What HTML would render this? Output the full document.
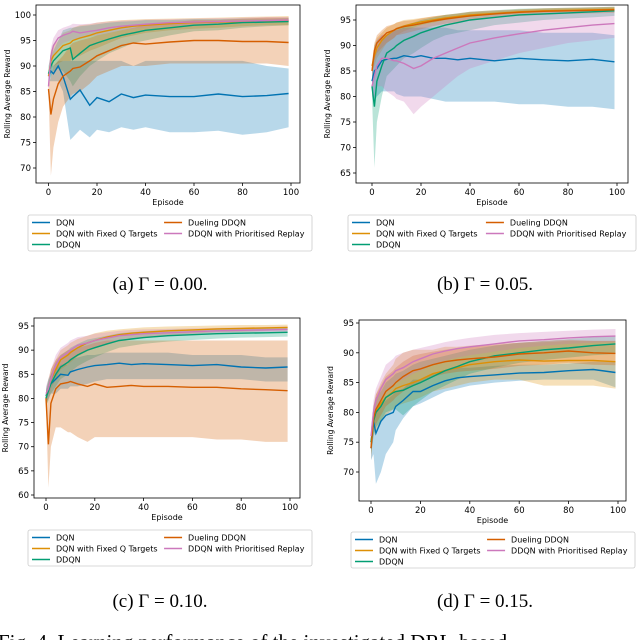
<!DOCTYPE html>
<html><head><meta charset="utf-8"><style>
body{margin:0;background:#fff;}
svg{display:block;font-family:"DejaVu Sans","Liberation Sans",sans-serif;}
</style></head><body>
<svg id="fig" width="640" height="640" viewBox="0 0 640 640" xmlns="http://www.w3.org/2000/svg"></svg>
<script>
const episodes=[0,1,2,4,6,9,10,13,17,20,25,30,35,40,50,60,70,80,90,99];
const seriesNames=["DQN","DQN with Fixed Q Targets","DDQN","Dueling DDQN","DDQN with Prioritised Replay"];
const xTicks=[0,20,40,60,80,100];
// panel a
const aYTicks=[70,75,80,85,90,95,100];
const aDQN=[88,89,88.5,90,88,83.5,84,85.3,82.3,83.8,83,84.5,83.8,84.3,84,84,84.5,84,84.2,84.6];
const aDQNLo=[87,87,87,87,85,75.5,76,77.5,76,77.5,77,78,77.5,78,77,77,77.3,76.5,77,78];
const aDQNHi=[89,91,90,91,91,91,91,91,91,91,91,91,90,91,91,91,91,91,90,89.5];
const aFQ=[88,91,92,93,94,94.5,95,95.5,96,96.5,97,97.5,97.8,98,98.3,98.5,98.6,98.7,98.8,98.9];
const aFQLo=[87,89,90,90.5,91,91,91.5,92,93,93.5,94.5,95.5,96,96.5,97,97.3,97.5,97.8,98,98];
const aFQHi=[89,93,94,95,96.5,97,97.5,98,98.2,98.5,98.8,99,99.1,99.2,99.3,99.4,99.5,99.6,99.7,99.8];
const aDD=[88.5,90,91,92,93,93.5,91.3,92.5,94,94.5,95.3,96,96.5,97,97.5,98,98.2,98.5,98.6,98.7];
const aDDLo=[87,88,89,89.5,89,87,86,88,90,91,92.5,93.5,94.5,95,96,96.8,97,97.5,97.8,98];
const aDDHi=[90,92,93,95,97,97.5,97.5,97.8,98,98.2,98.5,98.7,98.8,99,99,99.2,99.2,99.3,99.3,99.4];
const aDu=[85.5,80.5,83.5,86.5,88,89,89.5,89.8,91,92,93,94,94.5,94.3,94.7,95,95,94.8,94.8,94.6];
const aDuLo=[85,68.5,74,79,82,84,84.5,85,86.5,88,89,90,90,90,90.5,90.5,90.5,90.5,90.5,90];
const aDuHi=[86,88,90,91,92,94,94.5,95,95.5,96,96.5,97,97.5,98,98.5,99,99,99.3,99.5,99.5];
const aPR=[86,92,94,95.5,96,96.5,96.8,96.5,96.8,97,97.5,97.8,98,98.2,98.5,98.6,98.7,98.8,98.9,99];
const aPRLo=[85,90,92,93.5,94.5,95,95.3,95.3,95.8,96,96.5,97,97.3,97.5,97.8,98,98.2,98.4,98.5,98.6];
const aPRHi=[87,93.5,95.5,97,97.5,98,98.3,98.2,98.3,98.5,98.7,98.9,99,99.1,99.2,99.3,99.4,99.5,99.6,99.6];
// panel b
const bYTicks=[65,70,75,80,85,90,95];
const bDQN=[83,85,85.5,87,87.3,87.5,87.5,88,87.7,88,87.5,87.5,87.2,87.5,87,87.5,87.2,87,87.3,86.8];
const bDQNLo=[81,79,80,81,81,81,80.5,80,80,80,79.5,79,79,79,79,78.5,78.5,78,78,77.5];
const bDQNHi=[85,90,91,92,92,93,93,93.5,93.5,93.5,93.5,93.5,93,93,93,93,92.5,92.5,92.5,92];
const bFQ=[86,88,89.5,91,92,93,93.3,93.8,94.3,94.6,95,95.4,95.7,96,96.3,96.6,96.8,96.9,97,97.1];
const bFQLo=[85,86,87.5,89,90.5,91.5,92,92.8,93.5,94,94.5,95,95.3,95.6,96,96.3,96.5,96.6,96.7,96.8];
const bFQHi=[87,90,91.5,92.5,93.5,94.2,94.5,95,95.2,95.4,95.7,96,96.2,96.5,96.7,97,97.2,97.3,97.4,97.5];
const bDD=[82,78,83,86,88.5,89.5,90,91,91.8,92.5,93.3,94,94.5,95,95.5,96,96.2,96.4,96.6,96.8];
const bDDLo=[80,66,75,80,84,85.5,86,87.5,88.5,89.5,91,92,92.5,93,94,94.5,95,95.3,95.5,95.8];
const bDDHi=[84,88,89,91,92,93,93.5,94,94.5,95,95.5,96,96.3,96.6,96.9,97.2,97.3,97.4,97.5,97.6];
const bDu=[85,89,90.5,91.5,92.5,93,93.3,93.7,94,94.3,94.8,95.2,95.5,95.8,96.2,96.5,96.7,96.8,96.9,97];
const bDuLo=[83.5,87,88.5,89.5,90.5,91.5,92,92.3,92.8,93.2,93.8,94.3,94.6,95,95.5,95.8,96,96.2,96.3,96.4];
const bDuHi=[86.5,90.5,92,93,93.8,94.2,94.5,94.8,95,95.3,95.7,96,96.3,96.6,96.9,97.1,97.3,97.4,97.5,97.6];
const bPR=[82,84,86,87.5,87.5,87,87,86.5,85.5,86,87.5,88.5,89.5,90.5,91.5,92.3,93,93.5,94,94.3];
const bPRLo=[80,80,82,82,81,80,79.5,79,76.5,78,80,82,84,85.5,87,88.5,89.5,90.5,91,91.5];
const bPRHi=[84,88,91,92,92.5,93,93,93.3,93.5,94,94.5,95,95.3,95.5,96,96.3,96.5,96.8,97,97.2];
// panel c
const cYTicks=[60,65,70,75,80,85,90,95];
const cDQN=[80.5,82,83,84,85,84.8,85.5,86,86.5,86.8,87,87.3,87,87.2,87,86.8,87,86.5,86.3,86.5];
const cDQNLo=[79,80,81,81,82,82,82.5,82.5,83,83.5,84,84,84,84,84,84,84,84,83.5,83.5];
const cDQNHi=[82,84,85,86,87,87,88,88.5,89,89,89.5,89.5,89.5,89.5,89.5,89,89,89,88.5,88.5];
const cFQ=[80,82,84,86,88,89,89.5,90.5,91.5,92,92.7,93.2,93.5,93.7,94,94.2,94.4,94.5,94.6,94.7];
const cFQLo=[78.5,80,82,84,86,87,87.5,88.7,89.8,90.5,91.4,92,92.4,92.7,93.1,93.4,93.7,93.8,94,94.1];
const cFQHi=[81.5,84,86,88,90,91,91.5,92.3,93,93.5,94,94.3,94.5,94.7,94.9,95,95.1,95.2,95.2,95.3];
const cDD=[80,81.5,83,85,86.5,87.5,88,89,90,90.5,91.3,92,92.3,92.6,93,93.2,93.4,93.5,93.6,93.7];
const cDDLo=[78.5,79.5,81,82.5,84,85,85.5,86.7,87.8,88.5,89.6,90.5,90.9,91.3,91.8,92.1,92.4,92.6,92.7,92.8];
const cDDHi=[81.5,83.5,85,87.5,89,90,90.5,91.3,92.2,92.5,93,93.5,93.7,93.9,94.2,94.3,94.4,94.4,94.5,94.6];
const cDu=[80,70.5,79,82,83,83.3,83.5,83,82.5,83,82.3,82.5,82.7,82.5,82.5,82.3,82.3,82,81.8,81.6];
const cDuLo=[79,61.5,70,74,74,73,73,72,71,72,72,72,72,72,72,72,71.5,71.5,71,71];
const cDuHi=[82,80,86,88,89,90,90,90.5,91,91.5,92,92,92,92,92,92,92,92,92,92];
const cPR=[81,82,84,87,88.5,89.5,90,91,91.5,92,92.5,93,93.2,93.4,93.6,93.8,94,94.1,94.2,94.3];
const cPRLo=[79.5,80,82,85,86.5,87.5,88,89.3,90,90.6,91.3,91.9,92.2,92.5,92.8,93.1,93.3,93.5,93.6,93.7];
const cPRHi=[82.5,84,86,89,90.5,91.5,92,92.7,93,93.4,93.7,94,94.2,94.3,94.4,94.5,94.6,94.7,94.8,94.9];
// panel d
const dYTicks=[70,75,80,85,90,95];
const dDQN=[74,78.5,76.5,78.5,79.5,80,81,82,83.5,83.5,84.5,85.3,85.8,86,86.3,86.6,86.7,87,87.2,86.7];
const dDQNLo=[72,73,68,70,73,75,77,79,81,81.5,82.5,83.5,84,84.5,85,85.3,85.5,85.5,85.5,84.2];
const dDQNHi=[76,80,80,81,82,83,83.5,84,85.5,85.5,86.5,87,87.5,87.5,87.8,88,88,88.2,88.5,88.5];
const dFQ=[75,78.5,80,81.5,82.5,83.5,84,84.5,85,85.5,86.5,87,87.5,88,88.5,88.8,88.6,88.7,88.7,88.5];
const dFQLo=[73,76,77,78.5,79.5,80.5,81,81.5,82,82.5,83.5,84,84.5,85,85.5,85.5,84.5,84.5,84.5,84];
const dFQHi=[77,81,83,85,86.5,88,89,90,90.5,90.5,90.5,91,91,91.2,91.5,91.7,91.8,92,92,92];
const dDD=[75,78.5,80,81,82.5,83.3,83.5,83.7,84.5,85,86,87,87.7,88.5,89.5,90,90.5,90.8,91.2,91.5];
const dDDLo=[73,76,77.5,78.5,80,80.5,80.5,79.5,81,82,83.5,84.5,85.5,86.5,87.5,88.3,88.8,89.2,89.6,89.8];
const dDDHi=[77,81,82.5,83.5,85,86,86.5,87,88,88.5,89,89.5,90,90.5,91.2,91.7,92,92.3,92.6,92.9];
const dDu=[74,79,80.5,82,83.5,84.5,85,86,87,87.3,88,88.5,88.8,89,89.3,89.8,90,90.3,90,89.9];
const dDuLo=[72,77,78,79.5,81,82,82.5,83.5,84.5,85,86,86.5,86.8,87,87.3,87.8,88,88.3,88,87.9];
const dDuHi=[76,81,83,84.5,86,87,87.5,88.5,89.5,89.8,90.2,90.5,90.8,91,91.3,91.7,92,92.2,92,92];
const dPR=[76,80,82,84,85.5,86.5,87,87.5,88.5,89,89.8,90.3,90.7,91,91.5,92,92.2,92.5,92.7,92.8];
const dPRLo=[74.5,78.5,80,82,83.5,84.5,85,85.5,86.5,87,88,88.7,89.2,89.6,90.2,90.8,91.2,91.5,91.7,91.8];
const dPRHi=[77.5,82,84,86,88,89,89.5,90,90.5,90.8,91.3,91.8,92.2,92.5,93,93.3,93.5,93.7,93.9,94];

const colors=["#0173b2","#de8f05","#029e73","#d55e00","#cc78bc"];
const NS="http://www.w3.org/2000/svg";
const svg=document.getElementById('fig');
function mk(tag,attrs,parent){const e=document.createElementNS(NS,tag);for(const k in attrs)e.setAttribute(k,attrs[k]);(parent||svg).appendChild(e);return e;}

const panels=[
 {id:"a",fx0:36,fx1:300,fy0:5,fy1:183,x0:48.5,x100:291,yv1:100,yp1:15,yv2:70,yp2:168,yt:aYTicks,
  s:[[aDQN,aDQNLo,aDQNHi],[aFQ,aFQLo,aFQHi],[aDD,aDDLo,aDDHi],[aDu,aDuLo,aDuHi],[aPR,aPRLo,aPRHi]],
  lx:28,lw:284,ly:215,cap:"(a) Γ = 0.00.",cx:160,cy:290},
 {id:"b",fx0:356,fx1:628,fy0:5,fy1:183,x0:372,x100:617,yv1:95,yp1:20,yv2:65,yp2:173,yt:bYTicks,
  s:[[bDQN,bDQNLo,bDQNHi],[bFQ,bFQLo,bFQHi],[bDD,bDDLo,bDDHi],[bDu,bDuLo,bDuHi],[bPR,bPRLo,bPRHi]],
  lx:348,lw:288,ly:215,cap:"(b) Γ = 0.05.",cx:485,cy:290},
 {id:"c",fx0:34,fx1:300,fy0:318,fy1:498,x0:46,x100:290,yv1:95,yp1:326,yv2:60,yp2:495,yt:cYTicks,
  s:[[cDQN,cDQNLo,cDQNHi],[cFQ,cFQLo,cFQHi],[cDD,cDDLo,cDDHi],[cDu,cDuLo,cDuHi],[cPR,cPRLo,cPRHi]],
  lx:28,lw:284,ly:530,cap:"(c) Γ = 0.10.",cx:160,cy:607},
 {id:"d",fx0:359,fx1:626,fy0:320,fy1:501,x0:371,x100:618,yv1:95,yp1:323,yv2:70,yp2:472,yt:dYTicks,
  s:[[dDQN,dDQNLo,dDQNHi],[dFQ,dFQLo,dFQHi],[dDD,dDDLo,dDDHi],[dDu,dDuLo,dDuHi],[dPR,dPRLo,dPRHi]],
  lx:351,lw:284,ly:532,cap:"(d) Γ = 0.15.",cx:485,cy:607}
];

panels.forEach(p=>{
 const g=mk('g',{});
 
 
 const X=v=>p.x0+(p.x100-p.x0)*v/100;
 const Y=v=>p.yp1+(p.yp2-p.yp1)*(v-p.yv1)/(p.yv2-p.yv1);
 const cp=mk('clipPath',{id:'clip'+p.id},g);
 mk('rect',{x:p.fx0,y:p.fy0,width:p.fx1-p.fx0,height:p.fy1-p.fy0},cp);
 const pg=mk('g',{'clip-path':'url(#clip'+p.id+')'},g);
 p.s.forEach((s,i)=>{
  const [m,lo,hi]=s;
  let d='M'+episodes.map((e,j)=>X(e).toFixed(1)+','+Y(hi[j]).toFixed(1)).join('L');
  for(let j=episodes.length-1;j>=0;j--)d+='L'+X(episodes[j]).toFixed(1)+','+Y(lo[j]).toFixed(1);
  const band=mk('path',{d:d+'Z',fill:colors[i],'fill-opacity':0.28,stroke:'none'},pg);
  
  
 });
 p.s.forEach((s,i)=>{
  const m=s[0];
  const line=mk('path',{d:'M'+episodes.map((e,j)=>X(e).toFixed(1)+','+Y(m[j]).toFixed(1)).join('L'),fill:'none',stroke:colors[i],'stroke-width':1.4},pg);
  
  
 });
 const fr=mk('rect',{x:p.fx0,y:p.fy0,width:p.fx1-p.fx0,height:p.fy1-p.fy0,fill:'none',stroke:'#000','stroke-width':0.8},g);
 
 
 xTicks.forEach(t=>{
  mk('line',{x1:X(t),x2:X(t),y1:p.fy1,y2:p.fy1+3,stroke:'#000','stroke-width':0.8},g);
  const tx=mk('text',{x:X(t),y:p.fy1+12,'font-size':8.5,'text-anchor':'middle'},g);
  tx.textContent=t;
  
  
 });
 p.yt.forEach(t=>{
  mk('line',{x1:p.fx0-3,x2:p.fx0,y1:Y(t),y2:Y(t),stroke:'#000','stroke-width':0.8},g);
  const tx=mk('text',{x:p.fx0-5,y:Y(t)+3,'font-size':8.5,'text-anchor':'end'},g);
  tx.textContent=t;
  
  
 });
 const xt=mk('text',{x:(p.fx0+p.fx1)/2,y:p.fy1+22,'font-size':8,'text-anchor':'middle'},g);
 xt.textContent='Episode';
 
 
 const yc=(p.fy0+p.fy1)/2, yx=p.fx0-26;
 const yt=mk('text',{x:yx,y:yc,'font-size':7.5,'text-anchor':'middle',transform:'rotate(-90 '+yx+' '+yc+')'},g);
 yt.textContent='Rolling Average Reward';
 
 
 const lg=mk('g',{},g);
 
 
 mk('rect',{x:p.lx,y:p.ly,width:p.lw,height:36,fill:'#fff',stroke:'#ccc','stroke-width':0.8,rx:2},lg);
 const pos=[[0,0],[0,1],[0,2],[1,0],[1,1]];
 seriesNames.forEach((n,i)=>{
  const [c,r]=pos[i];
  const bx=p.lx+4+c*(p.lw*0.465), by=p.ly+7.5+r*11;
  const e=mk('g',{},lg);
  
  
  mk('line',{x1:bx,x2:bx+18,y1:by,y2:by,stroke:colors[i],'stroke-width':1.4},e);
  const t=mk('text',{x:bx+24,y:by+3,'font-size':8},e);
  t.textContent=n;
 });
 const cap=mk('text',{x:p.cx,y:p.cy,'font-size':19,'text-anchor':'middle','font-family':'"Liberation Serif",serif'},g);
 cap.textContent=p.cap;
 
 
});
const ft=mk('text',{x:-2,y:649,'font-size':21,'font-family':'"Liberation Serif",serif'});
ft.textContent='Fig. 4.  Learning performance of the investigated DRL-based';


</script>
</body></html>
